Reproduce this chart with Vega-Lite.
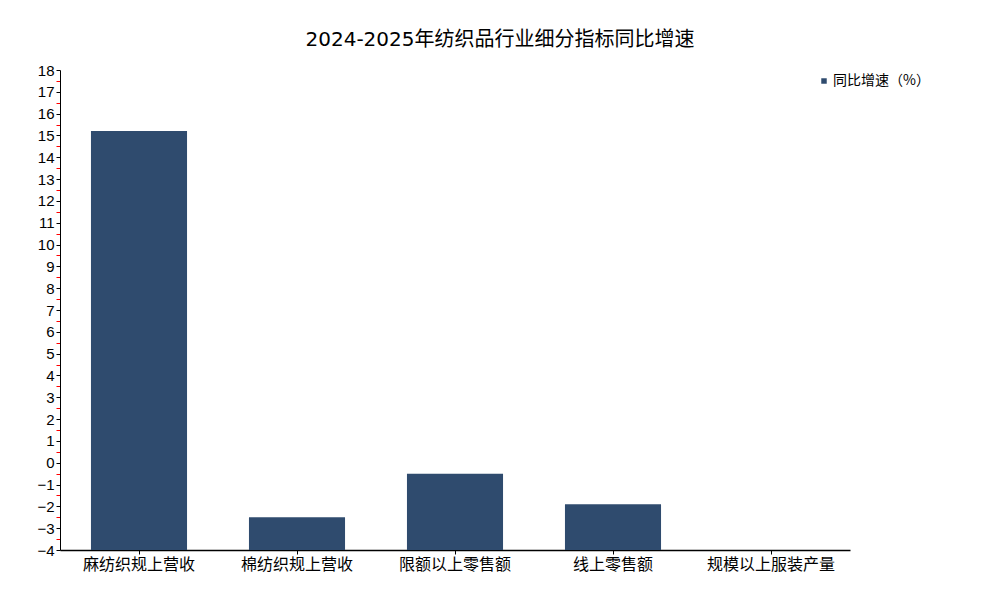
{
  "$schema": "https://vega.github.io/schema/vega-lite/v6.json",
  "width": 790,
  "height": 480,
  "autosize": {"type": "none"},
  "padding": {"left": 60, "top": 70, "right": 150, "bottom": 50},
  "background": "white",
  "title": {
    "text": "2024-2025年纺织品行业细分指标同比增速",
    "fontSize": 20,
    "fontWeight": "normal",
    "font": "DejaVu Sans, Noto Sans CJK SC",
    "color": "#000000",
    "anchor": "middle",
    "dx": 45,
    "offset": 13
  },
  "config": {
    "view": {"stroke": null},
    "font": "Liberation Sans, Noto Sans CJK SC"
  },
  "data": {
    "values": [
      {"category": "麻纺织规上营收", "value": 15.2},
      {"category": "棉纺织规上营收", "value": -2.5},
      {"category": "限额以上零售额", "value": -0.5},
      {"category": "线上零售额", "value": -1.9},
      {"category": "规模以上服装产量", "value": -4}
    ]
  },
  "mark": {"type": "bar"},
  "encoding": {
    "x": {
      "field": "category",
      "type": "nominal",
      "sort": null,
      "scale": {"paddingInner": 0.392, "paddingOuter": 0.196},
      "axis": {
        "title": null,
        "labelAngle": 0,
        "labelFontSize": 16,
        "labelColor": "#000000",
        "labelFont": "Noto Sans CJK SC",
        "labelPadding": 2,
        "tickColor": "#000000",
        "tickSize": 4,
        "domainColor": "#000000",
        "domainWidth": 1.5,
        "grid": false
      }
    },
    "y": {
      "field": "value",
      "type": "quantitative",
      "scale": {"domain": [-4, 18], "nice": false, "zero": false},
      "axis": {
        "title": null,
        "values": [-4, -3.5, -3, -2.5, -2, -1.5, -1, -0.5, 0, 0.5, 1, 1.5, 2, 2.5, 3, 3.5, 4, 4.5, 5, 5.5, 6, 6.5, 7, 7.5, 8, 8.5, 9, 9.5, 10, 10.5, 11, 11.5, 12, 12.5, 13, 13.5, 14, 14.5, 15, 15.5, 16, 16.5, 17, 17.5, 18],
        "labelExpr": "datum.value % 1 === 0 ? (datum.value < 0 ? '−' + abs(datum.value) : datum.value + '') : ''",
        "labelOverlap": false,
        "labelFontSize": 15,
        "labelColor": "#000000",
        "labelPadding": 2,
        "tickSize": 4,
        "tickColor": {"condition": {"test": "datum.value % 1 !== 0", "value": "#ff0000"}, "value": "#000000"},
        "domainColor": "#000000",
        "domainWidth": 1,
        "grid": false
      }
    },
    "y2": {"datum": -4},
    "color": {
      "datum": "同比增速（%）",
      "scale": {"range": ["#2F4B6E"]},
      "legend": {
        "title": null,
        "orient": "none",
        "legendX": 757,
        "legendY": 4,
        "symbolType": "square",
        "symbolSize": 30,
        "labelFontSize": 14,
        "labelFont": "Noto Sans CJK SC",
        "labelColor": "#000000",
        "labelOffset": 2
      }
    }
  }
}
